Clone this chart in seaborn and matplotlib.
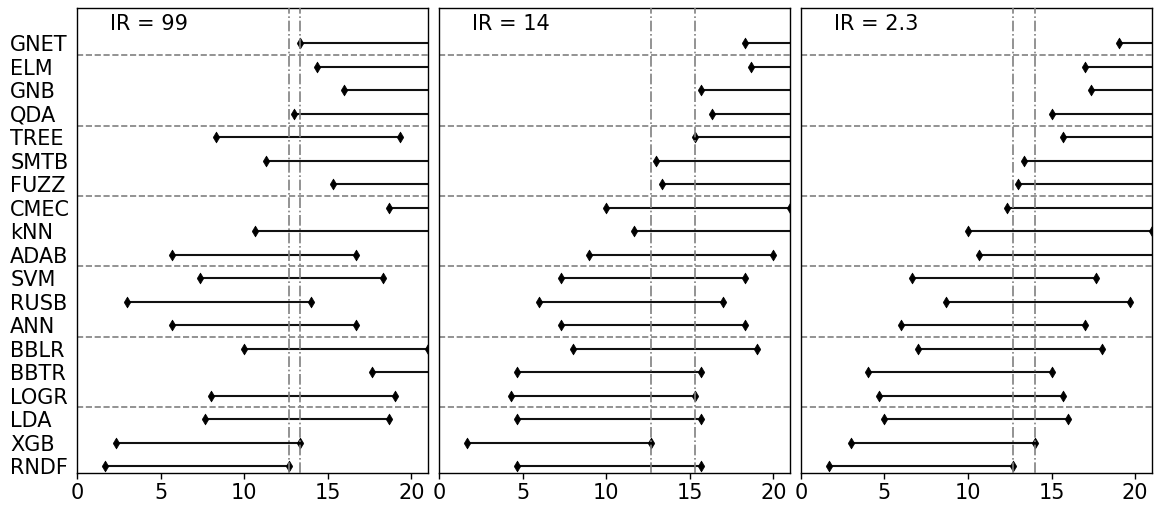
import matplotlib
matplotlib.use("Agg")
import matplotlib.pyplot as plt
import seaborn as sns
import numpy as np
import pandas as pd

sns.set_style("ticks")
plt.rcParams['font.family'] = ['DejaVu Sans']
plt.rcParams['text.color'] = 'black'
plt.rcParams['xtick.color'] = 'black'
plt.rcParams['ytick.color'] = 'black'
plt.rcParams['xtick.labelcolor'] = 'black'
plt.rcParams['ytick.labelcolor'] = 'black'

# classifiers, top to bottom
models = ['GNET', 'ELM', 'GNB', 'QDA', 'TREE', 'SMTB', 'FUZZ', 'CMEC', 'kNN', 'ADAB',
          'SVM', 'RUSB', 'ANN', 'BBLR', 'BBTR', 'LOGR', 'LDA', 'XGB', 'RNDF']

# mean ranks per imbalance ratio
rank_ir99 = [13.33, 14.33, 16.0, 13.0, 8.33, 11.33, 15.33, 18.67, 10.67, 5.67,
             7.33, 3.0, 5.67, 10.0, 17.67, 8.0, 7.67, 2.33, 1.67]
rank_ir14 = [18.33, 18.67, 15.67, 16.33, 15.33, 13.0, 13.33, 10.0, 11.67, 9.0,
             7.33, 6.0, 7.33, 8.0, 4.67, 4.33, 4.67, 1.67, 4.67]
rank_ir23 = [19.0, 17.0, 17.33, 15.0, 15.67, 13.33, 13.0, 12.33, 10.0, 10.67,
             6.67, 8.67, 6.0, 7.0, 4.0, 4.67, 5.0, 3.0, 1.67]

panel_titles = ['IR = 99', 'IR = 14', 'IR = 2.3']
critical_diff = 11.0
group_breaks = [0.5, 3.5, 6.5, 9.5, 12.5, 15.5]

fig, axes = plt.subplots(1, 3, figsize=(11.56, 5.07), dpi=100, sharey=True)
fig.subplots_adjust(left=0.0666, right=0.9965, top=0.984, bottom=0.067, wspace=0.031)

for ax, ranks, title in zip(axes, [rank_ir99, rank_ir14, rank_ir23], panel_titles):
    df = pd.DataFrame({'model': models, 'rank': ranks})
    df['pos'] = np.arange(len(models))
    df['upper'] = df['rank'] + critical_diff

    ax.hlines(df['pos'], df['rank'], df['upper'], color='#111111', linewidth=1.5, zorder=2)
    for col in ['rank', 'upper']:
        sns.scatterplot(data=df, x=col, y='pos', marker='d', s=30, color='black',
                        edgecolor='black', linewidth=0.5, ax=ax, zorder=3, legend=False)

    for yb in group_breaks:
        ax.axhline(yb, color='gray', linestyle='--', linewidth=1.2, zorder=1)
    best_two = np.sort(df['rank'].values)[:2] + critical_diff
    for xv in best_two:
        ax.axvline(xv, color='gray', linestyle='-.', linewidth=1.2, zorder=4)

    ax.text(0.095, 0.965, title, transform=ax.transAxes, fontsize=15, va='center', ha='left')

    ax.set_xlim(0, 21)
    ax.set_ylim(18.3, -1.5)
    ax.set_xticks([0, 5, 10, 15, 20])
    ax.tick_params(axis='x', labelsize=15, length=4, width=1)
    ax.tick_params(axis='y', length=0, labelsize=15, pad=48)
    ax.set_xlabel('')
    ax.set_ylabel('')
    for sp in ax.spines.values():
        sp.set_color('black')
        sp.set_linewidth(1.0)

axes[0].set_yticks(np.arange(len(models)))
axes[0].set_yticklabels(models, ha='left')

plt.savefig('out.png', dpi=100)
plt.close()
